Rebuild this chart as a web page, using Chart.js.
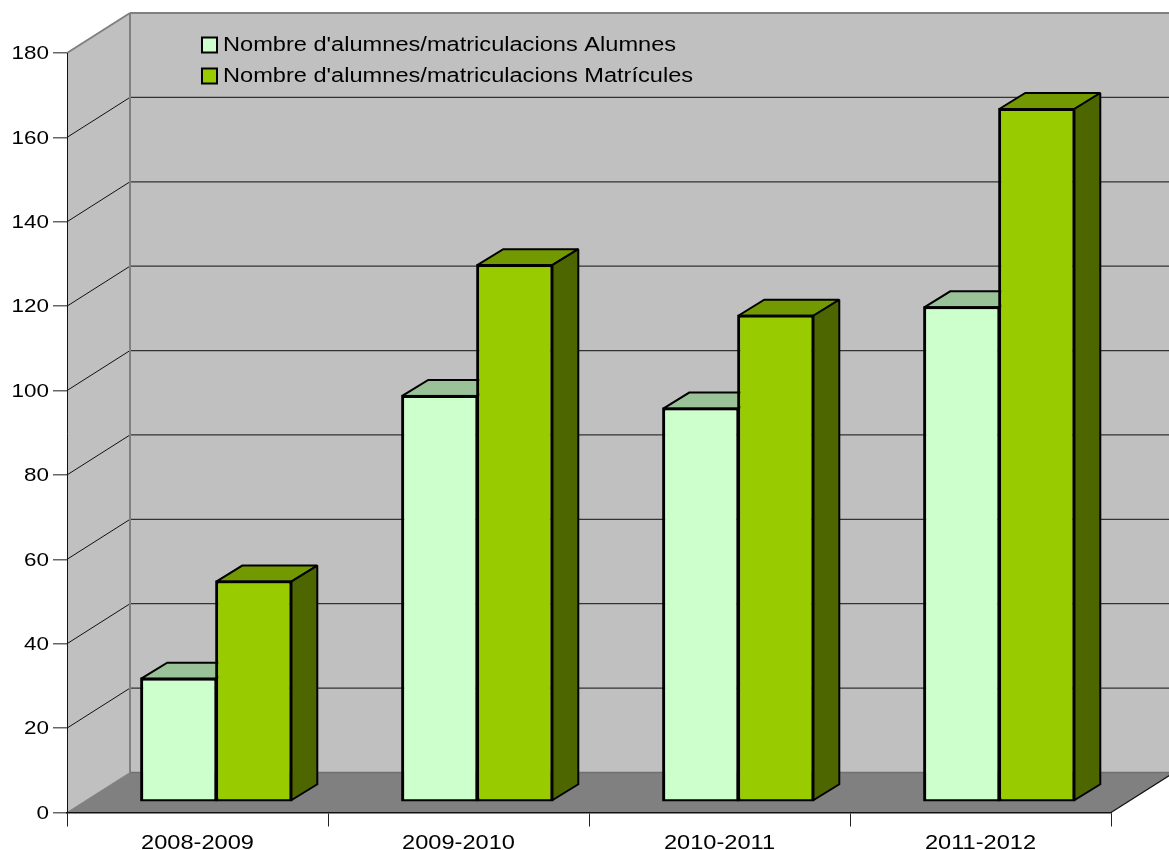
<!DOCTYPE html>
<html>
<head>
<meta charset="utf-8">
<style>html,body{margin:0;padding:0;background:#fff}#w{position:relative;width:1169px;height:850px}</style>
<script src="https://cdn.jsdelivr.net/npm/chart.js@4/dist/chart.umd.js"></script>
</head>
<body>
<div id="w"><canvas id="c" width="1169" height="850"></canvas></div>
<script>
const categories = ["2008-2009", "2009-2010", "2010-2011", "2011-2012"];
const alumnes = [29, 96, 93, 117];
const matricules = [52, 127, 115, 164];
const seriesLabels = ["Nombre d'alumnes/matriculacions Alumnes", "Nombre d'alumnes/matriculacions Matrícules"];
const frontColors = ["#CCFFCC", "#99CC00"];
const topColors = ["#99C299", "#739900"];
const sideColors = ["#99C299", "#4D6600"];

const DX = 63, DY = 40;          // depth of the floor
const BDX = 26, BDY = 16;        // depth of a bar
const LIFT_X = 18.75, LIFT_Y = 11.5; // where the bars stand on the floor
const TEXT_STRETCH = 1.18;       // the reference's type is wider than it is tall

function poly(ctx, pts, fill, stroke, lw) {
  ctx.beginPath();
  pts.forEach((p, i) => i ? ctx.lineTo(p[0], p[1]) : ctx.moveTo(p[0], p[1]));
  ctx.closePath();
  if (fill) { ctx.fillStyle = fill; ctx.fill(); }
  if (stroke) { ctx.strokeStyle = stroke; ctx.lineWidth = lw; ctx.lineJoin = 'miter'; ctx.miterLimit = 2; ctx.stroke(); }
}
function line(ctx, x1, y1, x2, y2, color, lw) {
  ctx.beginPath(); ctx.moveTo(x1, y1); ctx.lineTo(x2, y2);
  ctx.strokeStyle = color; ctx.lineWidth = lw; ctx.stroke();
}

const room = {
  id: 'room',
  beforeInit(chart) {
    const ctx = chart.ctx, fill = ctx.fillText.bind(ctx);
    ctx.fillText = function (s, x, y, m) {
      const isLegend = ctx.textAlign === 'left';
      ctx.save();
      ctx.translate(isLegend ? x - 4 : x, isLegend ? y : y + 1);
      ctx.scale(TEXT_STRETCH, 1);
      fill(s, 0, 0);
      ctx.restore();
    };
  },
  afterLayout(chart) {
    const lg = chart.legend;
    lg.left = 191; lg.width = 540; lg.right = lg.left + lg.width;
    lg.top = 24; lg.bottom = lg.top + lg.height;
    lg.adjustHitBoxes();
  },
  beforeDraw(chart) {
    const ctx = chart.ctx, a = chart.chartArea, y = chart.scales.y;
    const L = a.left, R = a.right, T = a.top, B = a.bottom;
    ctx.save();
    ctx.fillStyle = '#fff'; ctx.fillRect(0, 0, chart.width, chart.height);
    poly(ctx, [[L + DX, T - DY], [chart.width + 2, T - DY], [chart.width + 2, B - DY], [L + DX, B - DY]], '#C0C0C0');
    poly(ctx, [[L, T], [L + DX, T - DY], [L + DX, B - DY], [L, B]], '#C0C0C0');
    poly(ctx, [[L, B], [L + DX, B - DY], [R + DX, B - DY], [R, B]], '#808080');
    y.ticks.forEach(t => {
      const p = y.getPixelForValue(t.value);
      if (t.value > 0 && t.value < 180) {
        line(ctx, L, p, L + DX, p - DY, '#111', 1);
        line(ctx, L + DX, p - DY, chart.width + 2, p - DY, '#333', 1.3);
      }
    });
    line(ctx, L, T, L + DX, T - DY, '#808080', 2);
    line(ctx, L + DX, T - DY, chart.width + 2, T - DY, '#808080', 2);
    line(ctx, L + DX, T - DY, L + DX, B - DY, '#808080', 2);
    line(ctx, L + DX, B - DY, chart.width + 2, B - DY, '#707070', 1.5);
    line(ctx, L, B, L + DX, B - DY, '#808080', 1);
    line(ctx, R, B, R + DX, B - DY, '#111', 1.2);
    ctx.restore();
  },
  beforeDatasetsDraw(chart) {
    const ctx = chart.ctx;
    ctx.save();
    ctx.translate(LIFT_X, -LIFT_Y);
    chart.data.datasets.forEach((d, i) => {
      const meta = chart.getDatasetMeta(i);
      meta.controller.draw();
      meta.data.forEach(el => {
        const p = el.getProps(['x', 'y', 'base', 'width'], true);
        const l = p.x - p.width / 2, r = p.x + p.width / 2, t = p.y, b = p.base;
        poly(ctx, [[l, t], [l + BDX, t - BDY], [r + BDX, t - BDY], [r, t]], topColors[i], '#000', 2);
        poly(ctx, [[r, t], [r + BDX, t - BDY], [r + BDX, b - BDY], [r, b]], sideColors[i], '#000', 2);
        ctx.strokeStyle = '#000'; ctx.lineWidth = 2;
        ctx.strokeRect(l, t, r - l, b - t);
      });
    });
    ctx.restore();
    return false;
  }
};

new Chart(document.getElementById('c'), {
  type: 'bar',
  data: {
    labels: categories,
    datasets: [
      { label: seriesLabels[0], data: alumnes, backgroundColor: frontColors[0], borderColor: '#000', borderWidth: 2 },
      { label: seriesLabels[1], data: matricules, backgroundColor: frontColors[1], borderColor: '#000', borderWidth: 2 }
    ]
  },
  options: {
    responsive: false,
    animation: false,
    devicePixelRatio: 1,
    layout: { padding: { left: 0, right: 58, top: 53, bottom: 0 }, autoPadding: false },
    datasets: { bar: { categoryPercentage: 0.575, barPercentage: 1 } },
    plugins: {
      title: { display: false },
      tooltip: { enabled: false },
      legend: {
        display: true,
        position: 'chartArea',
        align: 'start',
        labels: {
          boxWidth: 15, boxHeight: 15, padding: 11,
          color: '#000',
          font: { family: 'Liberation Sans', size: 20 }
        }
      }
    },
    scales: {
      x: {
        type: 'category',
        position: 'bottom',
        afterFit(s) { s.height = 37.5; },
        grid: { drawOnChartArea: false, drawTicks: true, tickLength: 14, color: '#222', lineWidth: 1, offset: true },
        border: { display: true, color: '#111', width: 1.5 },
        ticks: { color: '#000', font: { family: 'Liberation Sans', size: 20 }, padding: 4, maxRotation: 0 }
      },
      y: {
        type: 'linear',
        min: 0, max: 180,
        position: 'left',
        afterFit(s) { s.width = 67; },
        grid: { drawOnChartArea: false, drawTicks: true, tickLength: 14, color: '#666', lineWidth: 1.5 },
        border: { display: true, color: '#111', width: 1 },
        ticks: { stepSize: 20, color: '#000', font: { family: 'Liberation Sans', size: 19 }, padding: 4 }
      }
    }
  },
  plugins: [room]
});
</script>
</body>
</html>
